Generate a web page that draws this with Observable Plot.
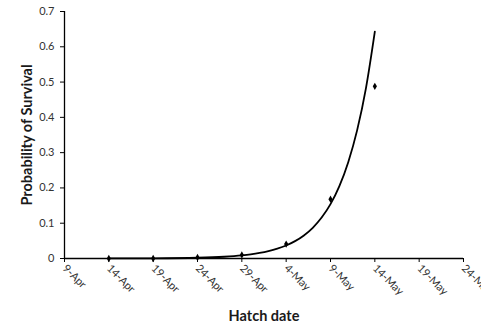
<!DOCTYPE html>
<html><head><meta charset="utf-8">
<script src="https://cdn.jsdelivr.net/npm/d3@7"></script>
<script src="https://cdn.jsdelivr.net/npm/@observablehq/plot@0.6"></script>
<style>body{margin:0;background:#fff}</style>
</head><body><div id="chart"></div>
<script>
// observed survival points
const obsDates = ["2009-04-14","2009-04-19","2009-04-24","2009-04-29","2009-05-04","2009-05-09","2009-05-14"];
const obsValues = [0.000, 0.000, 0.003, 0.010, 0.041, 0.168, 0.488];
// fitted trend curve
const fitDates = ["2009-04-14","2009-04-19","2009-04-24","2009-04-27","2009-04-29","2009-04-30","2009-05-01","2009-05-02","2009-05-03","2009-05-04","2009-05-05","2009-05-06","2009-05-07","2009-05-08","2009-05-09","2009-05-10","2009-05-11","2009-05-12","2009-05-13","2009-05-14"];
const fitValues = [0.0001,0.0005,0.0021,0.0050,0.0089,0.0118,0.0157,0.0209,0.0278,0.0369,0.0492,0.0654,0.087,0.116,0.154,0.205,0.273,0.363,0.483,0.643];
const xTicks = ["2009-04-09","2009-04-14","2009-04-19","2009-04-24","2009-04-29","2009-05-04","2009-05-09","2009-05-14","2009-05-19","2009-05-24"];
const yTicks = [0,0.1,0.2,0.3,0.4,0.5,0.6,0.7];

const pts = obsDates.map((d,i)=>({date:new Date(d), v:obsValues[i]}));
const fit = fitDates.map((d,i)=>({date:new Date(d), v:fitValues[i]}));
const ticks = xTicks.map(d=>new Date(d));
const fmt = d3.utcFormat("%-d-%b");

const chart = Plot.plot({
  width: 481, height: 324,
  marginLeft: 64, marginRight: 18, marginTop: 11, marginBottom: 66,
  style: {fontFamily: "Lato, 'Open Sans', sans-serif", fontSize: "11px", color: "#333", background: "#fff"},
  x: {type: "utc", domain: [ticks[0], ticks[ticks.length-1]]},
  y: {domain: [0, 0.7]},
  marks: [
    Plot.axisX({ticks: ticks, tickFormat: fmt, tickRotate: 45, tickSize: 4, tickPadding: 4, label: null, stroke: "#000", fill: "#333"}),
    Plot.axisY({ticks: yTicks, tickFormat: d => String(d), tickSize: 4, tickPadding: 6, label: null, stroke: "#000", fill: "#333"}),
    Plot.ruleY([0], {stroke: "#000", strokeWidth: 1.3}),
    Plot.ruleX([ticks[0]], {stroke: "#000", strokeWidth: 1.3}),
    Plot.line(fit, {x: "date", y: "v", curve: "monotone-x", stroke: "#000", strokeWidth: 1.8}),
    Plot.dot(pts, {x: "date", y: "v", symbol: "diamond", r: 2.2, fill: "#000", stroke: "none"}),
    Plot.text(["Probability of Survival"], {frameAnchor: "left", dx: -37, rotate: -90, textAnchor: "middle", fontWeight: "bold", fontSize: 14.5, fill: "#1a1a1a"}),
    Plot.text(["Hatch date"], {frameAnchor: "bottom", dy: 58, lineAnchor: "middle", fontWeight: "bold", fontSize: 14.5, fill: "#1a1a1a"})
  ]
});
document.getElementById("chart").appendChild(chart);
</script>
</body></html>
